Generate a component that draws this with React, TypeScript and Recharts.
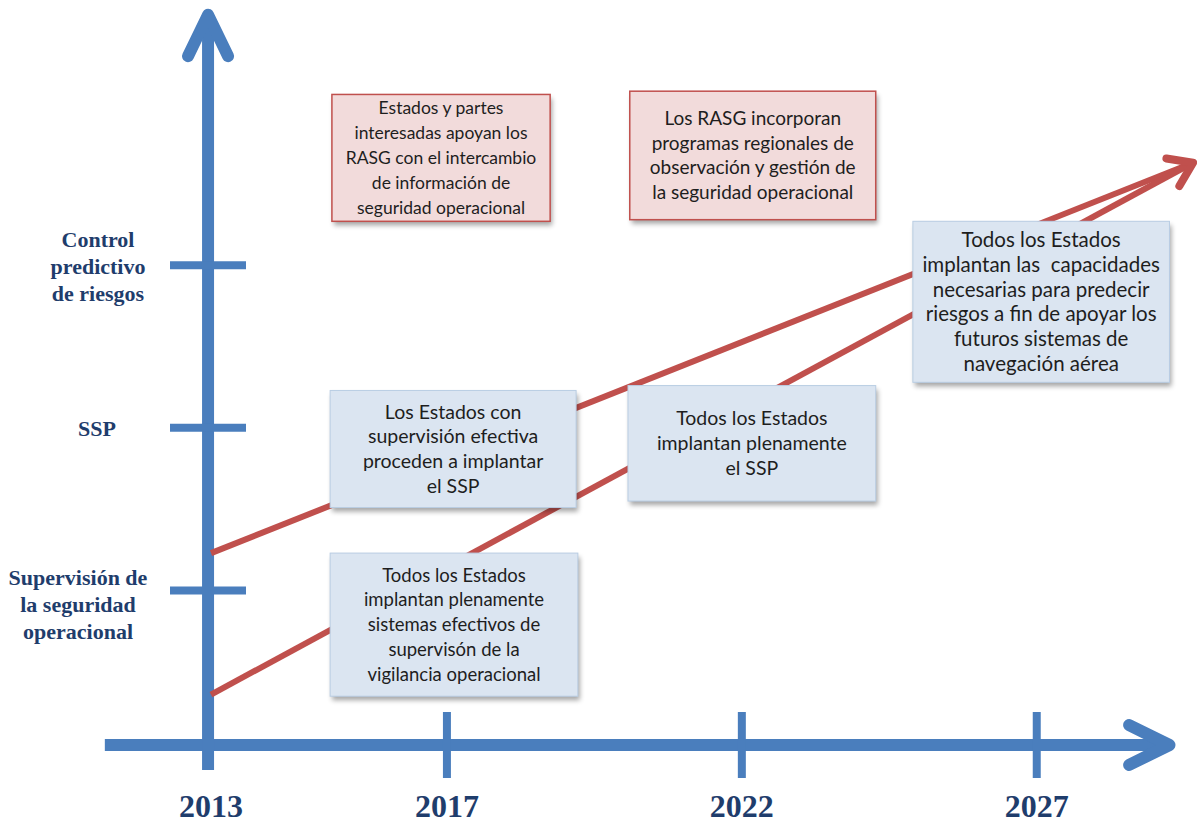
import { LineChart, Line, XAxis, YAxis, ReferenceLine, ReferenceArea } from 'recharts';

// años del eje horizontal y niveles del eje vertical
const years = [2013, 2017, 2022, 2027];
const levels = [1, 2, 3];
const levelLabels = [
  ['Supervisión de', 'la seguridad', 'operacional'],
  ['SSP'],
  ['Control', 'predictivo', 'de riesgos'],
];

// trayectorias (rojo)
const trayectoriaAlta = [
  { year: 2013, level: 1.23 },
  { year: 2029.65, level: 3.63 },
];
const trayectoriaBaja = [
  { year: 2013, level: 0.36 },
  { year: 2029.65, level: 3.63 },
];

// textos de los cuadros
const textosRojos = [
  ['Estados y partes', 'interesadas apoyan los', 'RASG con el intercambio', 'de información de', 'seguridad operacional'],
  ['Los RASG incorporan', 'programas regionales de', 'observación y gestión de', 'la seguridad operacional'],
];
const textosAzules = [
  ['Todos los Estados', 'implantan plenamente', 'sistemas efectivos de', 'supervisón de la', 'vigilancia operacional'],
  ['Los Estados con', 'supervisión efectiva', 'proceden a implantar', 'el SSP'],
  ['Todos los Estados', 'implantan plenamente', 'el SSP'],
  ['Todos los Estados', 'implantan las  capacidades', 'necesarias para predecir', 'riesgos a fin de apoyar los', 'futuros sistemas de', 'navegación aérea'],
];

// ubicación de los cuadros (año / nivel) y tamaño de letra
const cajasRojas = [
  { x1: 2015.05, x2: 2018.75, y1: 3.27, y2: 4.05, fs: 17.5 },
  { x1: 2020.1, x2: 2024.27, y1: 3.28, y2: 4.07, fs: 19 },
];
const cajasAzules = [
  { x1: 2015.02, x2: 2019.22, y1: 0.35, y2: 1.23, fs: 18.5 },
  { x1: 2015.02, x2: 2019.19, y1: 1.51, y2: 2.23, fs: 19.5 },
  { x1: 2020.07, x2: 2024.27, y1: 1.55, y2: 2.26, fs: 19.5 },
  { x1: 2024.9, x2: 2029.25, y1: 2.28, y2: 3.27, fs: 20.5 },
];

const BLUE = '#4a7ebd';
const NAVY = '#1f3d6c';
const RED = '#c0504d';
const AXIS_X = 208;

const labelPos: Record<number, { cx: number; dy: number }> = {
  1: { cx: 78, dy: -5 },
  2: { cx: 97, dy: 8 },
  3: { cx: 98, dy: -18 },
};

const LevelTick = (props: any) => {
  const { y, payload } = props;
  const lines = levelLabels[levels.indexOf(payload.value)];
  const pos = labelPos[payload.value];
  return (
    <g>
      <line x1={AXIS_X - 38} x2={AXIS_X + 38} y1={y} y2={y} stroke={BLUE} strokeWidth={8} />
      <text textAnchor="middle" fontFamily="Liberation Serif" fontWeight="bold" fontSize={22} fill={NAVY}>
        {lines.map((l, i) => (
          <tspan key={i} x={pos.cx} y={y + pos.dy + i * 27}>{l}</tspan>
        ))}
      </text>
    </g>
  );
};

const YearTick = (props: any) => {
  const { x, y, payload } = props;
  return (
    <g>
      {payload.value !== years[0] && (
        <line x1={x} x2={x} y1={y - 33} y2={y + 33} stroke={BLUE} strokeWidth={8} />
      )}
      <text x={x} y={y + 72} textAnchor="middle" fontFamily="Liberation Serif" fontWeight="bold" fontSize={32} fill={NAVY}>
        {payload.value}
      </text>
    </g>
  );
};

const flecha = (color: string, sw: number, len: number, ang: number, shaft: boolean) => (p: any) => {
  const { x1, y1, x2, y2 } = p;
  const a = Math.atan2(y1 - y2, x1 - x2);
  const w1 = [x2 + len * Math.cos(a + ang), y2 + len * Math.sin(a + ang)];
  const w2 = [x2 + len * Math.cos(a - ang), y2 + len * Math.sin(a - ang)];
  const ex = x2 + (sw / 2) * Math.cos(a);
  const ey = y2 + (sw / 2) * Math.sin(a);
  return (
    <g>
      {shaft && <line x1={x1} y1={y1} x2={ex} y2={ey} stroke={color} strokeWidth={sw} />}
      <polyline
        points={`${w1[0]},${w1[1]} ${x2},${y2} ${w2[0]},${w2[1]}`}
        fill="none"
        stroke={color}
        strokeWidth={sw}
        strokeLinecap="round"
        strokeLinejoin="round"
      />
    </g>
  );
};

const Caja = (props: any) => {
  const { x, y, width, height, lines, rojo, id, fs } = props;
  const lh = 24.8;
  const first = y + height / 2 - ((lines.length - 1) * lh) / 2;
  return (
    <g>
      <defs>
        <filter id={id} x="-10%" y="-10%" width="130%" height="140%">
          <feGaussianBlur stdDeviation="2.5" />
        </filter>
      </defs>
      <rect x={x + 2} y={y + 4} width={width} height={height} fill="#000" opacity={0.35} filter={`url(#${id})`} />
      <rect
        x={x}
        y={y}
        width={width}
        height={height}
        fill={rojo ? '#f2dbdb' : '#dbe5f1'}
        stroke={rojo ? '#c0504d' : '#b9cde3'}
        strokeWidth={rojo ? 1.5 : 1}
      />
      <text textAnchor="middle" fontFamily="Lato" fontSize={fs} fill="#1e1e1e" style={{ whiteSpace: 'pre' }}>
        {lines.map((l: string, i: number) => (
          <tspan key={i} x={x + width / 2} y={first + i * lh} dy="0.35em">{l}</tspan>
        ))}
      </text>
    </g>
  );
};

export default function App() {
  return (
    <div style={{ position: 'absolute', left: 0, top: 0, background: '#fff' }}>
      <LineChart width={1198} height={824} margin={{ top: 5, right: 2, bottom: 0, left: 0 }}>
        <XAxis
          type="number"
          dataKey="year"
          domain={[2013, 2029.7]}
          ticks={years}
          interval={0}
          height={79}
          tickSize={0}
          tickMargin={0}
          axisLine={false}
          tickLine={false}
          tick={(p: any) => <YearTick {...p} />}
        />
        <YAxis
          type="number"
          domain={[0.05, 4.6]}
          ticks={levels}
          interval={0}
          width={211}
          tickSize={0}
          tickMargin={0}
          axisLine={false}
          tickLine={false}
          tick={(p: any) => <LevelTick {...p} />}
        />
        <ReferenceLine
          segment={[{ x: 2011.2, y: 0.05 }, { x: 2029.25, y: 0.05 }]}
          ifOverflow="visible"
          shape={flecha(BLUE, 12, 45, 0.46, true)}
        />
        <ReferenceLine
          segment={[{ x: 2012.95, y: -0.104 }, { x: 2012.95, y: 4.54 }]}
          ifOverflow="visible"
          shape={flecha(BLUE, 12, 46, 0.45, true)}
        />
        <Line data={trayectoriaAlta} dataKey="level" type="linear" stroke={RED} strokeWidth={6} dot={false} isAnimationActive={false} />
        <Line data={trayectoriaBaja} dataKey="level" type="linear" stroke={RED} strokeWidth={6} dot={false} isAnimationActive={false} />
        <ReferenceLine
          segment={[
            { x: trayectoriaAlta[0].year, y: (trayectoriaAlta[0].level + trayectoriaBaja[0].level) / 2 },
            { x: trayectoriaAlta[1].year, y: trayectoriaAlta[1].level },
          ]}
          ifOverflow="visible"
          shape={flecha(RED, 8, 27, 0.6, false)}
        />
        {cajasRojas.map(({ fs, ...c }, i) => (
          <ReferenceArea
            key={`r${i}`}
            {...c}
            ifOverflow="visible"
            zIndex={1500}
            shape={(p: any) => <Caja {...p} lines={textosRojos[i]} rojo fs={fs} id={`sombraR${i}`} />}
          />
        ))}
        {cajasAzules.map(({ fs, ...c }, i) => (
          <ReferenceArea
            key={`a${i}`}
            {...c}
            ifOverflow="visible"
            zIndex={1500}
            shape={(p: any) => <Caja {...p} lines={textosAzules[i]} fs={fs} id={`sombraA${i}`} />}
          />
        ))}
      </LineChart>
    </div>
  );
}
